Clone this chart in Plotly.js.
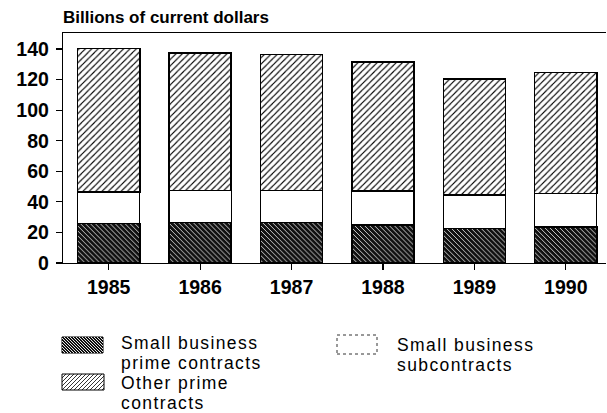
<!DOCTYPE html>
<html>
<head>
<meta charset="utf-8">
<script src="https://cdn.plot.ly/plotly-3.0.1.min.js"></script>
<style>html,body{margin:0;padding:0;background:#fff;}#chart{width:607px;height:413px;}</style>
</head>
<body>
<div id="chart"></div>
<script>
// ---- Data (billions of current dollars) ----
const years = ['1985', '1986', '1987', '1988', '1989', '1990'];
const smallBusinessPrime = [26, 26.5, 26.5, 25, 22.5, 23.5];
const smallBusinessSub = [20.5, 21, 21, 22, 22, 22];
const otherPrime = [94, 90, 89, 84.5, 76, 79];
const yTicks = [0, 20, 40, 60, 80, 100, 120, 140];
const seriesNames = ['Small business prime contracts', 'Small business subcontracts', 'Other prime contracts'];

// ---- Layout geometry (pixels) ----
const W = 607, H = 413;
const M = {l: 63, r: 1, t: 33, b: 150};
const PW = W - M.l - M.r, PH = H - M.t - M.b;
const px = x => (x - M.l) / PW;
const py = y => (H - M.b - y) / PH;
const FONT = 'Liberation Sans, Arial, Helvetica, sans-serif';

const traces = [
  {type: 'bar', name: seriesNames[0], x: years, y: smallBusinessPrime,
   marker: {color: '#111', line: {color: '#000', width: 1.5},
            pattern: {shape: '\\', fgcolor: '#fff', bgcolor: '#111', size: 3.5, solidity: 0.22, fillmode: 'replace'}}},
  {type: 'bar', name: seriesNames[1], x: years, y: smallBusinessSub,
   marker: {color: '#fff', line: {color: '#000', width: 1.2}}},
  {type: 'bar', name: seriesNames[2], x: years, y: otherPrime,
   marker: {color: '#fff', line: {color: '#000', width: 1.5},
            pattern: {shape: '/', fgcolor: '#000', bgcolor: '#fff', size: 4.5, solidity: 0.25, fillmode: 'replace'}}}
];

// ---- Custom legend (swatches + text) ----
function hatch(x0, y0, x1, y1, step, dir) {
  let d = '';
  if (dir === '/') {
    for (let c = x0 + y0; c <= x1 + y1; c += step) {
      const xa = Math.max(x0, c - y1), xb = Math.min(x1, c - y0);
      if (xa < xb) d += `M${px(xa)},${py(c - xa)}L${px(xb)},${py(c - xb)}`;
    }
  } else {
    for (let c = x0 - y1; c <= x1 - y0; c += step) {
      const xa = Math.max(x0, c + y0), xb = Math.min(x1, c + y1);
      if (xa < xb) d += `M${px(xa)},${py(xa - c)}L${px(xb)},${py(xb - c)}`;
    }
  }
  return d;
}
function rect(x0, y0, x1, y1, fill, line) {
  return {type: 'rect', xref: 'paper', yref: 'paper', x0: px(x0), x1: px(x1), y0: py(y1), y1: py(y0),
          fillcolor: fill, line: line, layer: 'above'};
}
const shapes = [
  rect(62, 337, 103, 353, '#111', {color: '#000', width: 1}),
  {type: 'path', xref: 'paper', yref: 'paper', path: hatch(62, 337, 103, 353, 3, '\\'), line: {color: '#fff', width: 0.9}, layer: 'above'},
  rect(62, 374, 104, 390, '#fff', {color: '#000', width: 1}),
  {type: 'path', xref: 'paper', yref: 'paper', path: hatch(62, 374, 104, 390, 4, '/'), line: {color: '#000', width: 0.8}, layer: 'above'},
  rect(337, 335, 377, 354, '#fff', {color: '#333', width: 1, dash: 'dot'})
];
const LFS = 17.5;
function lbl(text, x, baseline) {
  return {text: '<span style="letter-spacing:1.4px">' + text + '</span>', xref: 'paper', yref: 'paper',
          x: px(x), y: py(baseline - 0.3465 * LFS), xanchor: 'left', yanchor: 'middle',
          showarrow: false, borderpad: 0, borderwidth: 0, font: {family: FONT, size: LFS, color: '#000'}};
}
const annotations = [
  lbl('Small business', 121, 349.5),
  lbl('prime contracts', 121, 369.2),
  lbl('Other prime', 121, 388.9),
  lbl('contracts', 121, 408.6),
  lbl('Small business', 397, 351),
  lbl('subcontracts', 397, 370.7)
];

const layout = {
  width: W, height: H,
  margin: M,
  paper_bgcolor: '#fff', plot_bgcolor: '#fff',
  barmode: 'stack', bargap: 0.32,
  showlegend: false,
  title: {text: '<b>Billions of current dollars</b>', xref: 'paper', x: 0, xanchor: 'left',
          yref: 'container', y: 1 - 16.7 / H, yanchor: 'middle',
          font: {family: FONT, size: 17, color: '#000'}},
  xaxis: {type: 'category', range: [-0.5, 5.44], showgrid: false, zeroline: false,
          showline: true, linecolor: '#000', linewidth: 1.2, mirror: true,
          ticks: 'outside', ticklen: 6, tickwidth: 1.2, tickcolor: '#000',
          tickfont: {family: FONT, size: 19.5, color: '#000', weight: 'bold'}, fixedrange: true},
  yaxis: {range: [0, 150.5], tickvals: yTicks, ticktext: yTicks.map(v => '<b>' + v + '</b>'),
          showgrid: false, zeroline: false,
          showline: true, linecolor: '#000', linewidth: 1.2,
          ticks: 'outside', ticklen: 6, tickwidth: 1.2, tickcolor: '#000', ticklabelstandoff: 3,
          tickfont: {family: FONT, size: 19.5, color: '#000'}, fixedrange: true},
  shapes: shapes,
  annotations: annotations
};

Plotly.newPlot('chart', traces, layout, {staticPlot: true, displayModeBar: false});
</script>
</body>
</html>
